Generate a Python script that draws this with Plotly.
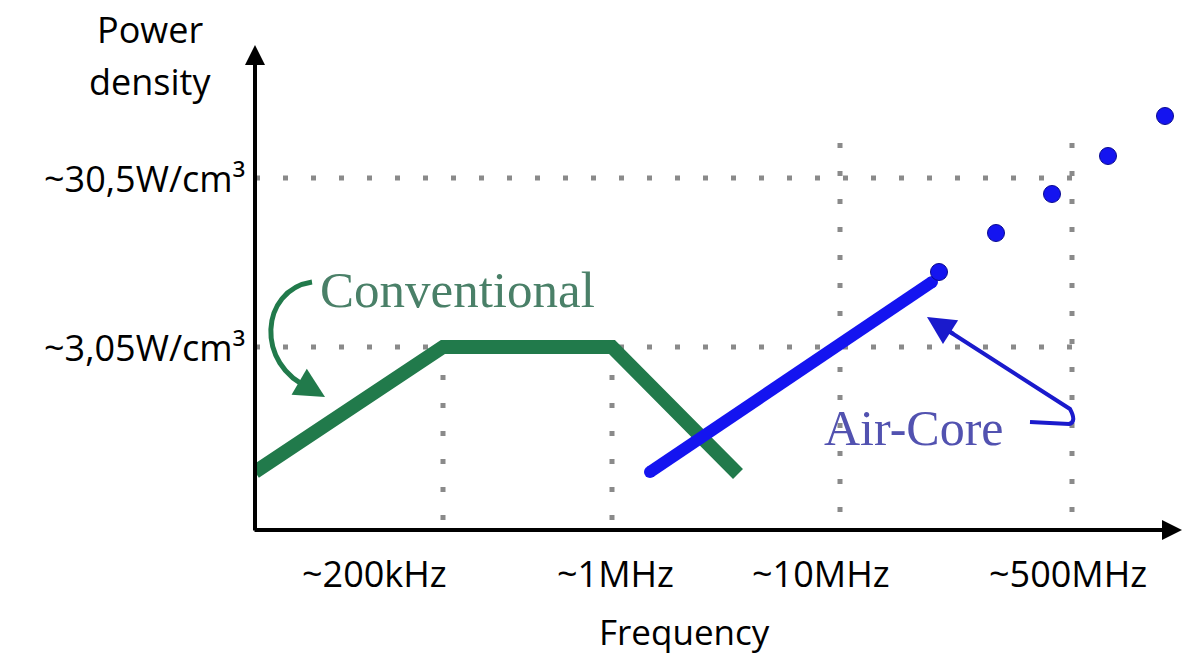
import plotly.graph_objects as go

# schematic units: x and y are arbitrary positions along the axes
conv_x = [0, 188, 357, 483]
conv_y = [58, 183, 183, 56]

air_x = [395, 677]
air_y = [58, 248]
air_dots_x = [684, 741, 797, 853, 910]
air_dots_y = [258, 297, 336, 374, 414]

# dotted guide lines (x position, top)
vgrid_x = [188, 357, 585, 817]
vgrid_top = [183, 183, 387, 387]
hgrid_y = [352, 183]
hgrid_end = 817

y_tick_labels = ['~30,5W/cm³', '~3,05W/cm³']
y_tick_pos = [352, 183]
x_tick_labels = ['~200kHz', '~1MHz', '~10MHz', '~500MHz']
x_tick_pos = [119, 360, 566, 813]

XMAX, YMAX = 930, 530
FONT = 'Open Sans'
GREEN = '#217a4b'
BLUE = '#1414f0'


def label(fig, x, y, text, size=36, xanchor='center'):
    # paper coords so labels outside the plot area still show
    fig.add_annotation(x=x / XMAX, y=y / YMAX, xref='paper', yref='paper', text=text,
                       xanchor=xanchor, yanchor='middle', showarrow=False,
                       font=dict(family=FONT, size=size, color='black'))


fig = go.Figure()

fig.add_trace(go.Scatter(x=conv_x, y=conv_y, mode='lines', showlegend=False,
                         line=dict(color=GREEN, width=14)))
fig.add_trace(go.Scatter(x=air_x, y=air_y, mode='lines+markers', showlegend=False,
                         line=dict(color=BLUE, width=12),
                         marker=dict(color=BLUE, size=12)))
fig.add_trace(go.Scatter(x=air_dots_x, y=air_dots_y, mode='markers', showlegend=False,
                         marker=dict(color=BLUE, size=17, line=dict(color='#0a0a90', width=1))))

for x, top in zip(vgrid_x, vgrid_top):
    fig.add_shape(type='line', x0=x, x1=x, y0=top, y1=0, layer='below',
                  line=dict(color='#8a8a8a', width=5, dash='5px,23px'))
for y in hgrid_y:
    fig.add_shape(type='line', x0=0, x1=hgrid_end, y0=y, y1=y, layer='below',
                  line=dict(color='#8a8a8a', width=5, dash='5px,23px'))

# curved pointer arrows
fig.add_shape(type='path', path='M 57,248 C 5,240 0,165 55,142',
              line=dict(color=GREEN, width=5))
fig.add_annotation(x=70, y=133, ax=48, ay=146, axref='x', ayref='y', text='',
                   showarrow=True, arrowhead=2, arrowsize=1.2, arrowwidth=5, arrowcolor=GREEN)
fig.add_shape(type='path', path='M 775,108 L 814,106 Q 822,108 815,121 L 692,200',
              line=dict(color='#1a1acc', width=4))
fig.add_annotation(x=672, y=213, ax=700, ay=195, axref='x', ayref='y', text='',
                   showarrow=True, arrowhead=2, arrowsize=1.4, arrowwidth=4, arrowcolor='#1a1acc')

# axes as arrows
fig.add_annotation(x=0, y=485, ax=0, ay=-2, axref='x', ayref='y', text='',
                   showarrow=True, arrowhead=2, arrowsize=1.0, arrowwidth=4, arrowcolor='black')
fig.add_annotation(x=927, y=0, ax=-2, ay=0, axref='x', ayref='y', text='',
                   showarrow=True, arrowhead=2, arrowsize=1.0, arrowwidth=4, arrowcolor='black')

fig.add_annotation(x=202, y=240, text='Conventional', showarrow=False,
                   font=dict(family='Liberation Serif', size=51, color='#4a8068'))
fig.add_annotation(x=659, y=102, text='Air-Core', showarrow=False,
                   font=dict(family='Liberation Serif', size=50, color='#5252b0'))

for lab, y in zip(y_tick_labels, y_tick_pos):
    label(fig, -8, y, lab, xanchor='right')
for lab, x in zip(x_tick_labels, x_tick_pos):
    label(fig, x, -43, lab)

label(fig, 429, -101, 'Frequency', size=35)
label(fig, -105, 500, 'Power')
label(fig, -105, 448, 'density')

fig.update_xaxes(range=[0, XMAX], visible=False, fixedrange=True)
fig.update_yaxes(range=[0, YMAX], visible=False, fixedrange=True)
fig.update_layout(width=1188, height=659, plot_bgcolor='white', paper_bgcolor='white',
                  margin=dict(l=255, r=3, t=0, b=129), showlegend=False)

fig.write_html('out.html', config={'displayModeBar': False},
               post_script="document.body.style.margin='0';")
